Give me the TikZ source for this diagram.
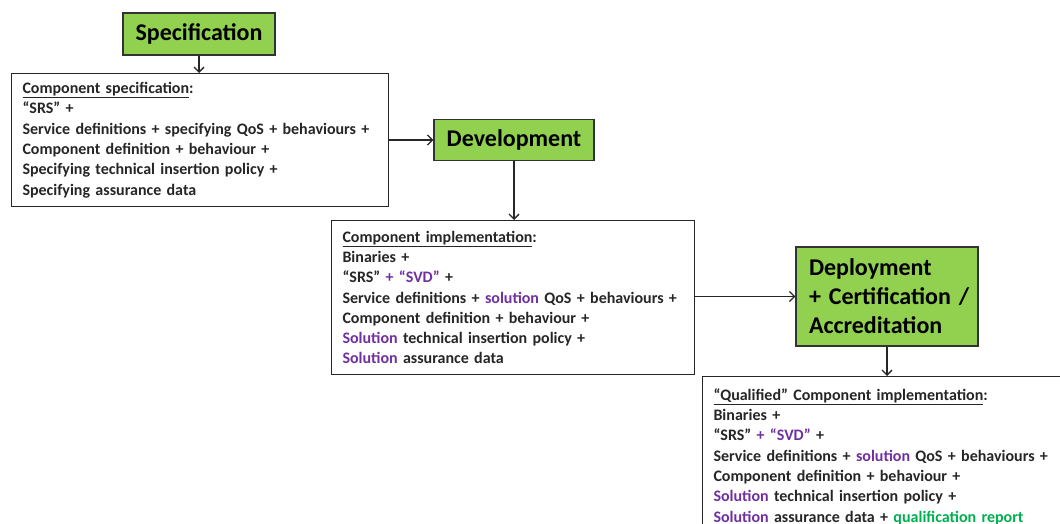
\documentclass[tikz,border=0pt]{standalone}
\usepackage{fontspec}
\setmainfont{Carlito}
\usetikzlibrary{arrows.meta,calc}
\definecolor{boxgreen}{HTML}{92D050}
\definecolor{solpurple}{HTML}{7030A0}
\definecolor{qualgreen}{HTML}{00B050}
\newcommand{\sol}[1]{\textcolor{solpurple}{#1}}
\hbadness=10000 \hfuzz=100pt
\tikzset{
  x=1pt, y=-1pt,
  phase/.style={draw=black!80, line width=1.2pt, fill=boxgreen, font=\bfseries\fontsize{24}{29}\selectfont, inner sep=0pt},
  infobox/.style={draw=black!85, line width=1pt, fill=white, anchor=north west, align=left, inner xsep=11pt, inner ysep=0pt, font=\bfseries\fontsize{16}{20.3}\selectfont, text=black!85},
  conn/.style={line width=1.3pt, draw=black!85, -{Straight Barb[length=5pt,width=10pt,line width=1.3pt]}}
}
\begin{document}
\begin{tikzpicture}
\useasboundingbox (0,0) rectangle (1060,524);
\clip (0,0) rectangle (1060,524);
\node[phase, minimum width=152pt, minimum height=42pt] (spec) at (199,34) {Specification};
\node[infobox, text width=355pt, minimum height=133pt] (box1) at (11,73) {%
\underline{Component specification}:\\
“SRS” +\\
Service definitions + specifying QoS + behaviours +\\
Component definition + behaviour +\\
Specifying technical insertion policy +\\
Specifying assurance data};
\node[phase, minimum width=160pt, minimum height=41pt] (dev) at (514,140) {Development};
\node[infobox, text width=341pt, minimum height=154pt] (box2) at (331,220) {%
\underline{Component implementation}:\\
Binaries +\\
“SRS” \sol{+ “SVD”} +\\
Service definitions + \sol{solution} QoS + behaviours +\\
Component definition + behaviour +\\
\sol{Solution} technical insertion policy +\\
\sol{Solution} assurance data};
\node[phase, minimum width=182pt, minimum height=99pt, align=left, text width=156pt] (dep) at (887,296.5) {\mbox{Deployment}\\\mbox{+ Certification /}\\\mbox{Accreditation}};
\node[infobox, text width=348pt, minimum height=160pt, anchor=north west] (box3) at (702,376) {%
\underline{“Qualified” Component implementation}:\\
Binaries +\\
“SRS” \sol{+ “SVD”} +\\
Service definitions + \sol{solution} QoS + behaviours +\\
Component definition + behaviour +\\
\sol{Solution} technical insertion policy +\\
\sol{Solution} assurance data + \textcolor{qualgreen}{qualification report}\\[8pt]};
\draw[conn] (spec.south) -- (box1.north -| spec.south);
\draw[conn] (box1.east |- dev.west) -- (dev.west);
\draw[conn] (dev.south) -- (dev.south |- box2.north);
\draw[conn] (box2.east |- dep.west) -- (dep.west);
\draw[conn] (dep.south) -- (dep.south |- box3.north);
\end{tikzpicture}
\end{document}
